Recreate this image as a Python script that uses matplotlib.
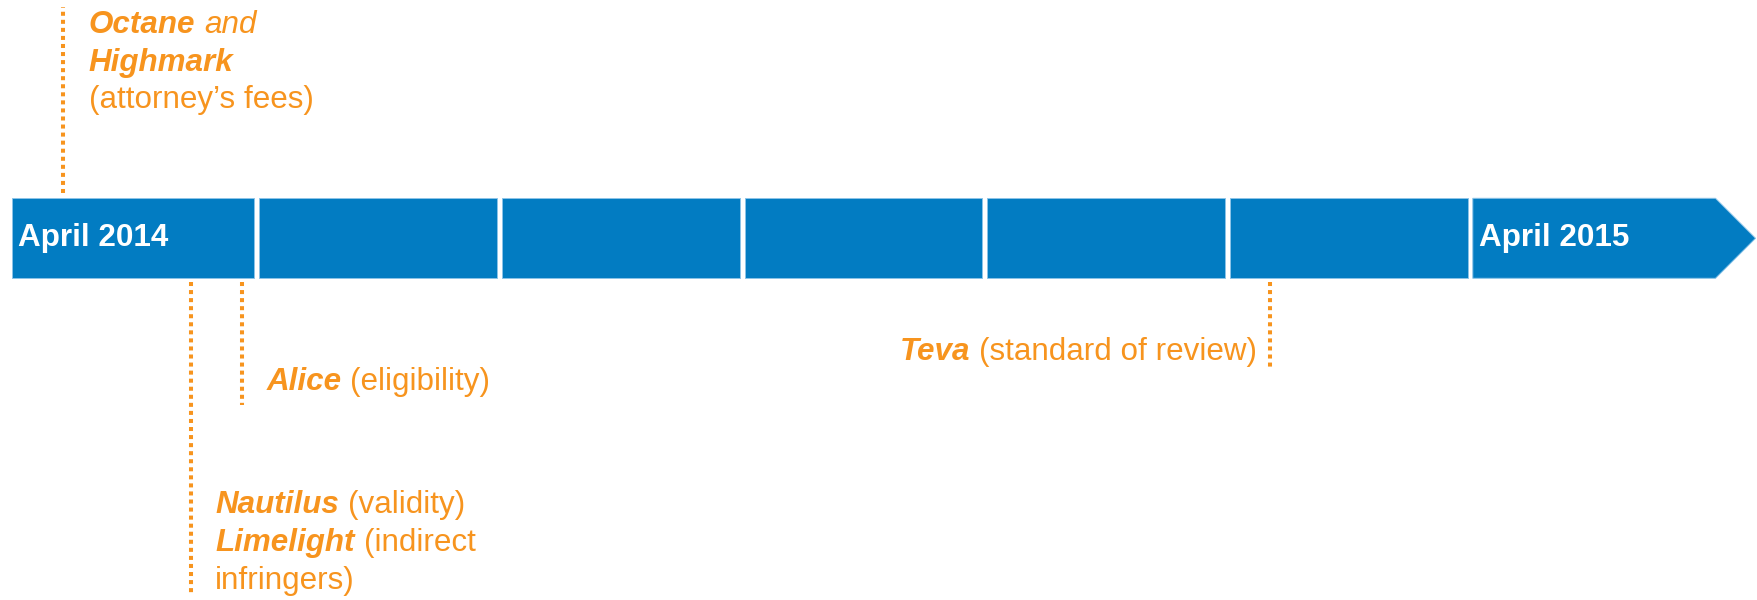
import matplotlib
matplotlib.use("Agg")
import matplotlib.pyplot as plt
from matplotlib import font_manager
from matplotlib.font_manager import FontProperties
from matplotlib.patches import Polygon, Rectangle
from matplotlib.transforms import offset_copy

# ---- timeline data -------------------------------------------------------
# Periods of two months each, counted in months after April 2014
period_start = [0, 2, 4, 6, 8, 10, 12]
period_label = ["April 2014", "", "", "", "", "", "April 2015"]

# Supreme Court decisions placed on the timeline (months after April 2014)
event_month = [0.38, 1.44, 1.86, 10.33]
# Each label: list of lines, each line a list of (text, bold, italic)
event_label = [
    [[("Octane", True, True), ("and", False, True)],
     [("Highmark", True, True)],
     [("(attorney\u2019s fees)", False, False)]],
    [[("Nautilus", True, True), ("(validity)", False, False)],
     [("Limelight", True, True), ("(indirect", False, False)],
     [("infringers)", False, False)]],
    [[("Alice", True, True), ("(eligibility)", False, False)]],
    [[("Teva", True, True), ("(standard of review)", False, False)]],
]

# ---- style ---------------------------------------------------------------
BLUE = "#027CC2"
EDGE = "#8CC4E8"
ORANGE = "#F7941E"
FS = 22.6


def font(bold, italic):
    """Pick the regular-width Liberation Sans face for the given style."""
    want_w = 700 if bold else 400
    want_s = "italic" if italic else "normal"
    for f in font_manager.fontManager.ttflist:
        if (f.name == "Liberation Sans" and "Narrow" not in f.fname
                and f.style == want_s and f.weight == want_w):
            return FontProperties(fname=f.fname, size=FS)
    return FontProperties(family="Liberation Sans", size=FS,
                          weight="bold" if bold else "normal",
                          style=want_s)


W, H, DPI = 1758, 600, 100
PX_PER_MONTH = 121.35
ORIGIN_PX = 16.6

fig = plt.figure(figsize=(W / DPI, H / DPI), dpi=DPI)
ax = fig.add_axes([0, 0, 1, 1])
ax.set_xlim(-ORIGIN_PX / PX_PER_MONTH, (W - ORIGIN_PX) / PX_PER_MONTH)
ax.set_ylim(H, 0)          # vertical layout in pixel rows, top down
ax.axis("off")

bar_top, bar_bot = 198.3, 278.3
bar_mid = (bar_top + bar_bot) / 2
gap = 5.0 / PX_PER_MONTH
left_bleed = 5.0 / PX_PER_MONTH
arrow_body = 2.0
arrow_tip = 0.33

# ---- timeline bar ----------------------------------------------------------
n = len(period_start)
for i, start in enumerate(period_start):
    x0 = start - (left_bleed if i == 0 else 0)
    if i < n - 1:
        x1 = period_start[i + 1] - gap
        patch = Rectangle((x0, bar_top), x1 - x0, bar_bot - bar_top,
                          facecolor=BLUE, edgecolor=EDGE, lw=0.7)
    else:
        xb = start + arrow_body
        patch = Polygon([(x0, bar_top), (xb, bar_top), (xb + arrow_tip, bar_mid),
                         (xb, bar_bot), (x0, bar_bot)], closed=True,
                        facecolor=BLUE, edgecolor=EDGE, lw=0.7)
    ax.add_patch(patch)
    if period_label[i]:
        ax.annotate(period_label[i], (x0, 246.2), xytext=(6.5, 0),
                    textcoords="offset pixels", color="white",
                    fontproperties=font(True, False),
                    ha="left", va="baseline")

# ---- event markers ----------------------------------------------------------
# (line y-extent in pixel rows: from bar edge outward)
line_extent = [(193, 7), (282, 593), (282, 405), (282, 367)]
for m, (y0, y1) in zip(event_month, line_extent):
    ax.plot([m, m], [y0, y1], color=ORANGE, lw=2.9,
            linestyle=(0, (1, 1.0)), solid_capstyle="butt")

fig.canvas.draw()
renderer = fig.canvas.get_renderer()


def measure(s, bold, italic):
    t = ax.text(0, 0, s, fontproperties=font(bold, italic))
    w = t.get_window_extent(renderer).width
    t.remove()
    return w


space_w = measure("a a", False, False) - measure("aa", False, False)


def draw_line(x, y, dx, runs, align="left"):
    widths = [measure(s, b, it) for s, b, it in runs]
    total = sum(widths) + space_w * (len(runs) - 1)
    off = dx if align == "left" else dx - total
    for (s, b, it), w in zip(runs, widths):
        tr = offset_copy(ax.transData, fig=fig, x=off, y=0, units="dots")
        ax.text(x, y, s, transform=tr, color=ORANGE,
                fontproperties=font(b, it), ha="left", va="baseline")
        off += w + space_w


# label placement: (first baseline row, line step, horizontal offset px, align)
label_place = [(33.3, 37.5, 26, "left"),
               (513.3, 38.0, 24, "left"),
               (390.0, 38.0, 24, "left"),
               (360.0, 38.0, -13, "right")]
for m, lines, (yb, step, dx, align) in zip(event_month, event_label, label_place):
    for k, runs in enumerate(lines):
        draw_line(m, yb + k * step, dx, runs, align)

fig.savefig("out.png", dpi=DPI)
